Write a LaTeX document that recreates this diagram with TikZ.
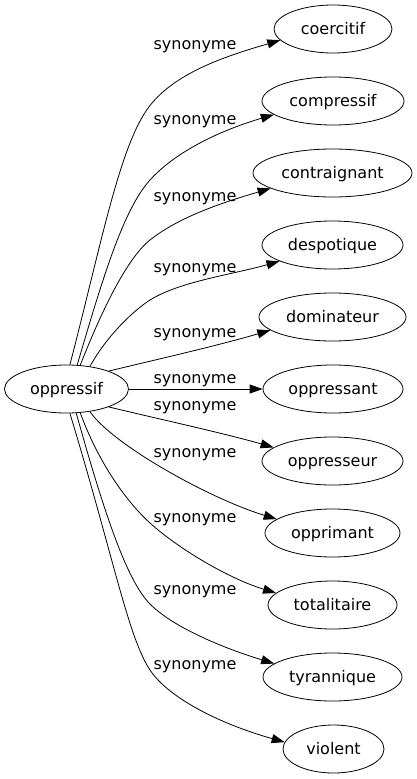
\documentclass[tikz,border=0pt]{standalone}
\usepackage{fontspec}
\setmainfont{DejaVu Sans}
\usetikzlibrary{arrows.meta,shapes.geometric}
\begin{document}
\begin{tikzpicture}[x=1pt,y=-1pt,
  every node/.style={font=\fontsize{16}{19}\selectfont},
  wordnode/.style={draw, ellipse, inner sep=0pt, minimum height=48pt,
    text height=11.5pt, text depth=1.5pt, line width=0.8pt},
  synlabel/.style={anchor=base, inner sep=0pt},
  synarrow/.style={draw, line width=0.8pt, -{Triangle[length=13pt,width=9pt]}}
]
\useasboundingbox (0,0) rectangle (417,779);

\node[wordnode, minimum width=124pt] (op) at (66.5,389) {oppressif};
\node[wordnode, minimum width=118pt] (coercitif) at (333,29) {coercitif};
\node[wordnode, minimum width=142pt] (compressif) at (333,101) {compressif};
\node[wordnode, minimum width=159pt] (contraignant) at (332.5,173) {contraignant};
\node[wordnode, minimum width=141pt] (despotique) at (332.5,245) {despotique};
\node[wordnode, minimum width=147pt] (dominateur) at (332.5,317) {dominateur};
\node[wordnode, minimum width=140pt] (oppressant) at (333,389) {oppressant};
\node[wordnode, minimum width=141pt] (oppresseur) at (332.5,461) {oppresseur};
\node[wordnode, minimum width=135pt] (opprimant) at (332.5,533) {opprimant};
\node[wordnode, minimum width=129pt] (totalitaire) at (332.5,605) {totalitaire};
\node[wordnode, minimum width=139pt] (tyrannique) at (332.5,677) {tyrannique};
\node[wordnode, minimum width=101pt] (violent) at (333.5,749) {violent};

\draw[synarrow] (op.82) .. controls (100.2,248.4) and (118.45,151.25) .. (146.7,110)
  .. controls (172.1,72.9) and (227.7,55.6) .. (coercitif.192);
\draw[synarrow] (op.66) .. controls (102.5,278.8) and (123.2,209.6) .. (150,180)
  .. controls (178.1,148.9) and (226.4,128.5) .. (compressif.193);
\draw[synarrow] (op.60) .. controls (103.7,305.5) and (128.2,257.4) .. (150,240)
  .. controls (179.6,216.4) and (225.1,201.7) .. (contraignant.194);
\draw[synarrow] (op.44) .. controls (109,332.2) and (137.25,308) .. (150,300)
  .. controls (179.75,281.45) and (233,274.4) .. (despotique.197);
\draw[synarrow] (op.23) .. controls (161.35,358.4) and (218.1,345.5) .. (dominateur.192);
\draw[synarrow] (op.east) -- (oppressant.west);
\draw[synarrow] (op.-23) .. controls (161.35,419.6) and (221.5,432.65) .. (oppresseur.167);
\draw[synarrow] (op.-44) .. controls (113,445) and (209.8,498.7) .. (opprimant.166);
\draw[synarrow] (op.-60) .. controls (99.25,464.7) and (127.8,502.9) .. (150,523)
  .. controls (178.1,548.5) and (228.5,578.5) .. (totalitaire.168);
\draw[synarrow] (op.-68) .. controls (105.7,518.6) and (127.6,581.3) .. (150,604)
  .. controls (172.4,626.7) and (221.7,647.65) .. (tyrannique.167);
\draw[synarrow] (op.-82) .. controls (113.5,557) and (128,636.8) .. (150,670)
  .. controls (169.25,699) and (222.4,724.6) .. (violent.172);

\node[synlabel] (l1) at (195,49.4) {synonyme};
\node[synlabel] (l2) at (195,124.4) {synonyme};
\node[synlabel] (l3) at (195,201.2) {synonyme};
\node[synlabel] (l4) at (195,272.7) {synonyme};
\node[synlabel] (l5) at (195,337.2) {synonyme};
\node[synlabel] (l6) at (195,383) {synonyme};
\node[synlabel] (l7) at (195,410.4) {synonyme};
\node[synlabel] (l8) at (195,457.7) {synonyme};
\node[synlabel] (l9) at (195,522.7) {synonyme};
\node[synlabel] (l10) at (195,594.4) {synonyme};
\node[synlabel] (l11) at (195,669.4) {synonyme};
\end{tikzpicture}
\end{document}
